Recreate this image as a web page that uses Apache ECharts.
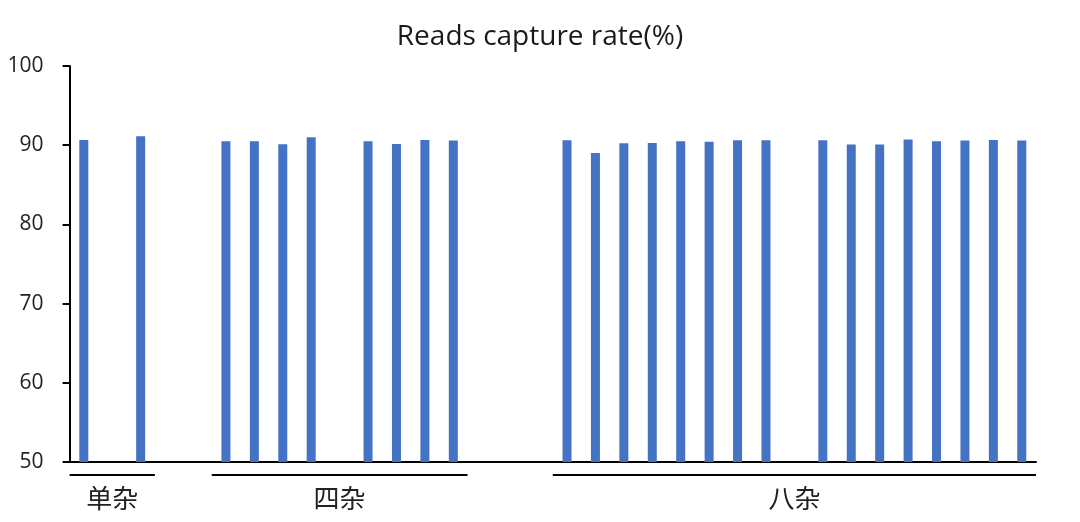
<!DOCTYPE html>
<html lang="en">
<head>
    <meta charset="UTF-8">
    <title>Reads capture rate</title>
    <script src="https://cdn.jsdelivr.net/npm/echarts@6/dist/echarts.min.js"></script>
    <style>
        html, body { margin: 0; padding: 0; background: #fff; }
        #charts { width: 1080px; height: 522px; }
    </style>
</head>
<body>
    <div id="charts"></div>
    <script type="text/javascript">
        // one slot per sample, empty slots ('' / null) are the gaps between groups
        var slots = ['s1', '', 's2', '', '',
            'f1', 'f2', 'f3', 'f4', '', 'f5', 'f6', 'f7', 'f8', '', '', '',
            'e1', 'e2', 'e3', 'e4', 'e5', 'e6', 'e7', 'e8', '',
            'e9', 'e10', 'e11', 'e12', 'e13', 'e14', 'e15', 'e16'];
        var rates = [90.67, null, 91.14, null, null,
            90.5, 90.5, 90.13, 91.0, null, 90.5, 90.16, 90.67, 90.6, null, null, null,
            90.63, 89.0, 90.25, 90.27, 90.5, 90.42, 90.63, 90.63, null,
            90.63, 90.08, 90.1, 90.72, 90.5, 90.59, 90.67, 90.59];
        var yTicks = [50, 60, 70, 80, 90, 100];
        // group name, first slot, last slot
        var groupNames = ['单杂', '四杂', '八杂'];
        var groupFrom = [0, 5, 17];
        var groupTo = [2, 13, 33];

        var myChart = echarts.init(document.getElementById('charts'));
        var option = {
            animation: false,
            title: {
                text: 'Reads capture rate(%)',
                left: 'center',
                top: 18,
                textStyle: {
                    fontFamily: 'Open Sans',
                    fontWeight: 'normal',
                    fontSize: 28,
                    color: '#1a1a1a'
                }
            },
            grid: {
                left: 69.6,
                right: 44,
                top: 66,
                bottom: 60
            },
            xAxis: {
                type: 'category',
                data: slots,
                axisLine: { lineStyle: { color: '#000', width: 2 } },
                axisTick: { show: false },
                axisLabel: { show: false }
            },
            yAxis: {
                type: 'value',
                min: yTicks[0],
                max: yTicks[yTicks.length - 1],
                interval: 10,
                axisLine: { show: true, lineStyle: { color: '#000', width: 2 } },
                axisTick: { show: true, length: 7, lineStyle: { color: '#000', width: 2 } },
                splitLine: { show: false },
                axisLabel: {
                    margin: 26,
                    fontFamily: 'Open Sans',
                    fontSize: 21,
                    color: '#222'
                }
            },
            series: [{
                type: 'bar',
                data: rates,
                barWidth: 9,
                itemStyle: { color: '#4472c4' }
            }]
        };
        myChart.setOption(option);

        // group brackets under the axis, placed from the category scale
        var graphics = [];
        var half = (myChart.convertToPixel({ xAxisIndex: 0 }, 1) - myChart.convertToPixel({ xAxisIndex: 0 }, 0)) / 2;
        for (var i = 0; i < groupNames.length; i++) {
            var x1 = myChart.convertToPixel({ xAxisIndex: 0 }, groupFrom[i]) - half;
            var x2 = myChart.convertToPixel({ xAxisIndex: 0 }, groupTo[i]) + half;
            graphics.push({
                type: 'line',
                shape: { x1: x1, y1: 475, x2: x2, y2: 475 },
                style: { stroke: '#000', lineWidth: 2 }
            });
            graphics.push({
                type: 'text',
                x: (x1 + x2) / 2,
                y: 498,
                style: {
                    text: groupNames[i],
                    fontFamily: 'Noto Sans CJK SC',
                    fontSize: 26,
                    fill: '#222',
                    align: 'center',
                    verticalAlign: 'middle'
                }
            });
        }
        myChart.setOption({ graphic: graphics });
    </script>
</body>
</html>
